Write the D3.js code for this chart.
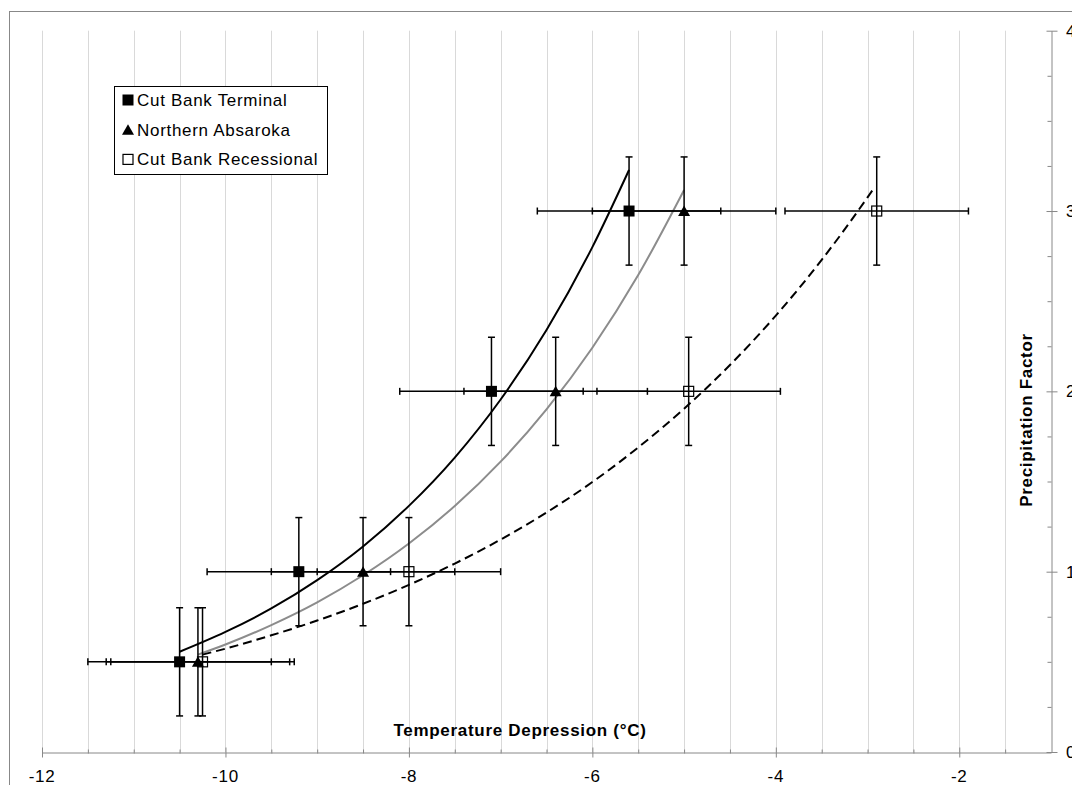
<!DOCTYPE html>
<html>
<head>
<meta charset="utf-8">
<script src="https://cdn.jsdelivr.net/npm/d3@7"></script>
<style>
  body { margin: 0; background: #fff; }
  text { font-family: "Liberation Sans", Arial, sans-serif; letter-spacing: 0.7px; fill: #000; }
</style>
</head>
<body>
<div id="chart"></div>
<script>
// tick labels
var xTickValues = [-12, -10, -8, -6, -4, -2];
var yTickValues = [0, 1, 2, 3, 4];

// series (temperature depression, precipitation factor)
var seriesNames = ["Cut Bank Terminal", "Northern Absaroka", "Cut Bank Recessional"];
var terminalX = [-10.5, -9.2, -7.1, -5.6];
var terminalY = [0.5, 1, 2, 3];
var absarokaX = [-10.3, -8.5, -6.4, -5.0];
var absarokaY = [0.5, 1, 2, 3];
var recessionalX = [-10.25, -8.0, -4.95, -2.9];
var recessionalY = [0.5, 1, 2, 3];
var xError = 1.0, yError = 0.3;

// trend curves
var terminalCurveX = [-10.5, -10, -9.5, -9, -8.5, -8, -7.5, -7, -6.5, -6, -5.6];
var terminalCurveY = [0.556, 0.666, 0.796, 0.953, 1.14, 1.365, 1.633, 1.955, 2.34, 2.8, 3.228];
var absarokaCurveX = [-10.3, -10, -9.5, -9, -8.5, -8, -7.5, -7, -6.5, -6, -5.5, -5];
var absarokaCurveY = [0.54, 0.596, 0.704, 0.83, 0.98, 1.156, 1.364, 1.61, 1.9, 2.242, 2.645, 3.117];
var recessionalCurveX = [-10.25, -10, -9.5, -9, -8.5, -8, -7.5, -7, -6.5, -6, -5.5, -5, -4.5, -4, -3.5, -3, -2.92];
var recessionalCurveY = [0.54, 0.573, 0.647, 0.729, 0.822, 0.927, 1.045, 1.178, 1.328, 1.497, 1.689, 1.904, 2.146, 2.42, 2.729, 3.076, 3.135];

var width = 1072, height = 785;

var svg = d3.select("#chart")
    .append("svg")
    .attr("width", width)
    .attr("height", height);

// outer frame (runs off the right and bottom)
svg.append("rect")
    .attr("x", 9.5).attr("y", 11.5)
    .attr("width", 1200).attr("height", 900)
    .attr("fill", "#fff")
    .attr("stroke", "#888");

var x = d3.scaleLinear().domain([-12, -1]).range([42, 1051]);
var y = d3.scaleLinear().domain([0, 4]).range([752, 30.7]);

// vertical gridlines every 0.5
var gridValues = d3.range(-12, -1, 0.5);
svg.append("g").selectAll("line")
    .data(gridValues)
    .enter().append("line")
    .attr("x1", function(d) { return Math.round(x(d)) + 0.5; })
    .attr("x2", function(d) { return Math.round(x(d)) + 0.5; })
    .attr("y1", y(4))
    .attr("y2", y(0))
    .attr("stroke", "#d9d9d9");

// x axis
var xAxis = svg.append("g")
    .attr("transform", "translate(0," + (y(0) + 0.5) + ")")
    .call(d3.axisBottom(x).tickValues(gridValues).tickSize(5).tickSizeOuter(0).tickFormat(""));
xAxis.select(".domain").attr("stroke", "#888");
xAxis.selectAll(".tick line").attr("stroke", "#888")
    .attr("y1", function(d) { return xTickValues.indexOf(d) >= 0 ? -5 : -3; })
    .attr("y2", function(d) { return xTickValues.indexOf(d) >= 0 ? 5 : 1; });
svg.append("g").selectAll("text")
    .data(xTickValues)
    .enter().append("text")
    .attr("x", function(d) { return x(d); })
    .attr("y", 782)
    .attr("text-anchor", "middle")
    .attr("font-size", 17)
    .text(function(d) { return d; });

// y axis on the right
var yMinor = d3.range(0, 4.01, 0.25);
var yAxis = svg.append("g")
    .attr("transform", "translate(" + (x(-1) + 0.5) + ",0)")
    .call(d3.axisRight(y).tickValues(yMinor).tickSize(5).tickSizeOuter(0).tickFormat(""));
yAxis.select(".domain").attr("stroke", "#888");
yAxis.selectAll(".tick line").attr("stroke", "#888")
    .attr("x1", function(d) { return yTickValues.indexOf(d) >= 0 ? -5 : -4; })
    .attr("x2", function(d) { return yTickValues.indexOf(d) >= 0 ? 6 : 0; });
svg.append("g").selectAll("text")
    .data(yTickValues)
    .enter().append("text")
    .attr("x", 1066)
    .attr("y", function(d) { return y(d) + 6; })
    .attr("font-size", 17)
    .text(function(d) { return d; });

// axis titles
svg.append("text")
    .attr("x", 520).attr("y", 736)
    .attr("text-anchor", "middle")
    .attr("font-size", 17)
    .attr("font-weight", "bold")
    .text("Temperature Depression (°C)");
svg.append("text")
    .attr("transform", "translate(1032,420) rotate(-90)")
    .attr("text-anchor", "middle")
    .attr("font-size", 17)
    .attr("font-weight", "bold")
    .text("Precipitation Factor");

// trend curves
var line = d3.line()
    .x(function(d) { return x(d[0]); })
    .y(function(d) { return y(d[1]); })
    .curve(d3.curveMonotoneX);

function zip(a, b) { return a.map(function(v, i) { return [v, b[i]]; }); }

svg.append("path").datum(zip(absarokaCurveX, absarokaCurveY))
    .attr("d", line).attr("fill", "none")
    .attr("stroke", "#8c8c8c").attr("stroke-width", 2);
svg.append("path").datum(zip(recessionalCurveX, recessionalCurveY))
    .attr("d", line).attr("fill", "none")
    .attr("stroke", "#000").attr("stroke-width", 2)
    .attr("stroke-dasharray", "9,5");
svg.append("path").datum(zip(terminalCurveX, terminalCurveY))
    .attr("d", line).attr("fill", "none")
    .attr("stroke", "#000").attr("stroke-width", 2);

// points
var points = [];
[[terminalX, terminalY, "square"], [absarokaX, absarokaY, "triangle"], [recessionalX, recessionalY, "open"]]
    .forEach(function(s) {
        s[0].forEach(function(v, i) { points.push({ x: v, y: s[1][i], type: s[2] }); });
    });

function drawMarker(g, type, cx, cy) {
    if (type === "square") {
        g.append("rect").attr("x", cx - 5.5).attr("y", cy - 5.5)
            .attr("width", 11).attr("height", 11).attr("fill", "#000");
    } else if (type === "triangle") {
        g.append("path")
            .attr("d", "M" + (cx - 6) + "," + (cy + 5) + "L" + (cx + 6) + "," + (cy + 5) + "L" + cx + "," + (cy - 5.5) + "Z")
            .attr("fill", "#000");
    } else {
        g.append("rect").attr("x", cx - 5).attr("y", cy - 5)
            .attr("width", 10).attr("height", 10)
            .attr("fill", "none").attr("stroke", "#000").attr("stroke-width", 1.2);
    }
}

var markers = svg.append("g");
points.forEach(function(p) { drawMarker(markers, p.type, x(p.x), y(p.y)); });

// error bars
var bars = svg.append("g").attr("stroke", "#000").attr("stroke-width", 1.5);
var cap = 3.5;
points.forEach(function(p) {
    var px = x(p.x), py = y(p.y);
    var xl = x(p.x - xError), xr = x(p.x + xError);
    var yt = y(p.y + yError), yb = y(p.y - yError);
    bars.append("line").attr("x1", xl).attr("x2", xr).attr("y1", py).attr("y2", py);
    bars.append("line").attr("x1", xl).attr("x2", xl).attr("y1", py - cap).attr("y2", py + cap);
    bars.append("line").attr("x1", xr).attr("x2", xr).attr("y1", py - cap).attr("y2", py + cap);
    bars.append("line").attr("x1", px).attr("x2", px).attr("y1", yt).attr("y2", yb);
    bars.append("line").attr("x1", px - cap).attr("x2", px + cap).attr("y1", yt).attr("y2", yt);
    bars.append("line").attr("x1", px - cap).attr("x2", px + cap).attr("y1", yb).attr("y2", yb);
});

// legend
var legend = svg.append("g");
legend.append("rect")
    .attr("x", 114.5).attr("y", 86.5)
    .attr("width", 213).attr("height", 88)
    .attr("fill", "#fff").attr("stroke", "#000");
var legendTypes = ["square", "triangle", "open"];
seriesNames.forEach(function(name, i) {
    var cy = 100 + i * 29.7;
    drawMarker(legend, legendTypes[i], 128, cy);
    legend.append("text")
        .attr("x", 137).attr("y", cy + 6)
        .attr("font-size", 17)
        .text(name);
});
</script>
</body>
</html>
